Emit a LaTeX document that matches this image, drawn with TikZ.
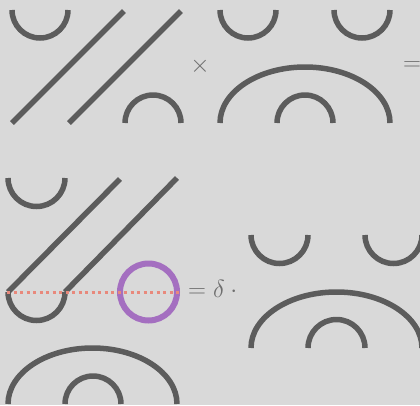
\documentclass[tikz,border=0pt]{standalone}
\usepackage{amsmath, amssymb}
\usepackage{xcolor}
\usepackage{tikz}
\usetikzlibrary{arrows.meta, positioning, calc}

\definecolor{bggray}{HTML}{D9D9D9}
\definecolor{strandgray}{HTML}{5C5C5C}
\definecolor{textgray}{HTML}{6E6E6E}
\definecolor{gluered}{HTML}{E8897C}
\definecolor{looppurple}{HTML}{A46FC0}

\tikzset{
	strand/.style={line width=5.5pt, draw=strandgray},
	gluing/.style={line width=3pt, draw=gluered, dash pattern=on 3pt off 3.5pt},
	closedloop/.style={line width=6pt, draw=looppurple},
	symb/.style={text=textgray, font=\fontsize{26}{30}\selectfont, inner sep=0pt}
}

\begin{document}
\begin{tikzpicture}[x=1pt, y=1pt]
		
		% Background
		\fill[bggray] (0,0) rectangle (420,-405);
		\useasboundingbox (0,0) rectangle (420,-405);
		
		% First diagram
		\draw[strand] (12,-10) arc[start angle=180, end angle=360, radius=28];
		\draw[strand] (12,-123) -- (124,-11);
		\draw[strand] (69,-123) -- (181,-11);
		\draw[strand] (125,-123) arc[start angle=180, end angle=0, radius=28];
		
		\node[symb] (times) at (200,-66) {$\times$};
		
		% Second diagram
		\foreach \x in {220,334}
		\draw[strand] (\x,-10) arc[start angle=180, end angle=360, radius=28];
		\draw[strand] (220,-123) arc[start angle=180, end angle=0, x radius=85, y radius=56];
		\draw[strand] (277,-123) arc[start angle=180, end angle=0, radius=28];
		
		\node[symb] (eqtop) at (412,-66) {$=$};
		
		% Stacked diagrams
		\draw[strand] (8,-178) arc[start angle=180, end angle=360, radius=28.5];
		\draw[strand] (120,-179) -- (8,-292);
		\draw[strand] (8,-292) arc[start angle=180, end angle=360, radius=28.5];
		\draw[strand] (65,-292) -- (177,-178);
		\draw[strand] (8,-404) arc[start angle=180, end angle=0, x radius=84.5, y radius=56];
		\draw[strand] (65,-404) arc[start angle=180, end angle=0, radius=28];
		
		% Closed loop
		\draw[closedloop] (148.5,-292) circle[radius=28.5];
		
		% Gluing line
		\draw[gluing] (7,-292) -- (182,-292);
		
		\node[symb, anchor=base west] (eqdelta) at (188,-297.5) {$=\delta\cdot{}$};
		
		% Result diagram
		\foreach \x in {251,365}
		\draw[strand] (\x,-235) arc[start angle=180, end angle=360, radius=28.5];
		\draw[strand] (251,-348) arc[start angle=180, end angle=0, x radius=85.5, y radius=56];
		\draw[strand] (308,-348) arc[start angle=180, end angle=0, radius=28.5];
		
	\end{tikzpicture}
\end{document}
